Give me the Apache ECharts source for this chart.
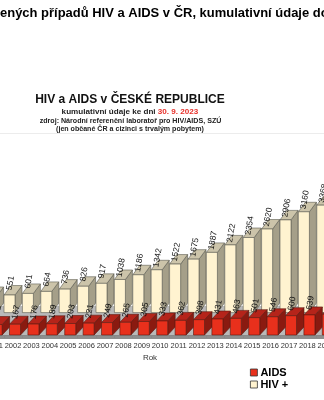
<!DOCTYPE html>
<html><head><meta charset="utf-8">
<script src="https://cdn.jsdelivr.net/npm/echarts@6/dist/echarts.min.js"></script>
<style>html,body{margin:0;padding:0;background:#fff}#c{width:324px;height:400px}</style>
</head><body><div id="c"></div>
<script>
const years = ['2001','2002','2003','2004','2005','2006','2007','2008','2009','2010','2011','2012','2013','2014','2015','2016','2017','2018','2019'];
const hivValues = [505, 551, 601, 664, 736, 826, 917, 1038, 1186, 1342, 1522, 1675, 1887, 2122, 2354, 2620, 2906, 3160, 3368];
const aidsValues = [152, 167, 176, 189, 203, 221, 249, 265, 305, 333, 362, 398, 431, 463, 501, 546, 600, 639, 672];
const seriesNames = ['AIDS', 'HIV +'];

const titleFull = 'Počet hlášených případů HIV a AIDS v ČR, kumulativní údaje do 30. 9. 2023';
const titleHidden = 'Počet hláš';
const titleVisible = 'ených případů HIV a AIDS v ČR, kumulativní údaje do';
const headLine = 'HIV a AIDS v ČESKÉ REPUBLICE';
const dateLead = 'kumulativní údaje ke dni ';
const dateText = '30. 9. 2023';
const sourceLine = 'zdroj: Národní referenční laboratoř pro HIV/AIDS, SZÚ';
const noteLine = '(jen občané ČR a cizinci s trvalým pobytem)';
const axisTitle = 'Rok';

const cv = document.createElement('canvas').getContext('2d');
function measure(t, size, fam, weight) { cv.font = (weight||'normal') + ' ' + size + 'px ' + fam; return cv.measureText(t).width; }
function fit(t, target, fam, weight) { return 20 * target / measure(t, 20, fam, weight); }

const TF = "'Liberation Sans Narrow', 'Liberation Sans', Arial, sans-serif";
const AF = "'Liberation Sans', Arial, sans-serif";
const tSize = fit(titleVisible, 329, TF, 'bold');
const tX = -measure(titleHidden, tSize, TF, 'bold');
const hSize = fit(headLine, 190, AF, 'bold');
const dSize = fit(dateLead + dateText, 137, AF, 'bold');
const sSize = fit(sourceLine, 182, AF, 'bold');
const nSize = fit(noteLine, 148, AF, 'bold');

function makeRender(baseVal, offX, offY, w, dx, dy, cols) {
  return function (params, api) {
    const i = api.value(0), v = api.value(1);
    const p0 = api.coord([i, baseVal]), p1 = api.coord([i, v]);
    const cx = p0[0] + offX, base = p0[1] + offY, top = p1[1] + offY;
    const x0 = cx - w / 2, x1 = cx + w / 2;
    const st = { stroke: cols.stroke, lineWidth: 0.6 };
    return {
      type: 'group',
      children: [
        { type: 'polygon', shape: { points: [[x1, top], [x1 + dx, top + dy], [x1 + dx, base + dy], [x1, base]] }, style: Object.assign({ fill: cols.side }, st) },
        { type: 'polygon', shape: { points: [[x0, top], [x1, top], [x1 + dx, top + dy], [x0 + dx, top + dy]] }, style: Object.assign({ fill: cols.top }, st) },
        { type: 'rect', shape: { x: x0, y: top, width: w, height: base - top }, style: Object.assign({ fill: cols.front }, st) },
        { type: 'text', x: cx + 1, y: top - 12, rotation: 80 * Math.PI / 180, z2: 50,
          style: { text: String(v), align: 'center', verticalAlign: 'middle', fontSize: 8.5, fontFamily: AF, fill: '#111' } }
      ]
    };
  };
}

const aidsMin = -380;
const chart = echarts.init(document.getElementById('c'), null, { renderer: 'canvas' });
chart.setOption({
  animation: false,
  backgroundColor: '#fff',
  grid: { left: -14.6, right: -11, top: 175.5, bottom: 65, containLabel: false, outerBoundsMode: 'none' },
  xAxis: {
    type: 'category', data: years, offset: 4,
    axisLine: { lineStyle: { color: '#888', width: 1 } },
    axisTick: { show: true, length: 3, lineStyle: { color: '#888' } },
    axisLabel: { interval: 0, fontSize: 7.5, color: '#333', margin: 3, fontFamily: AF }
  },
  yAxis: [
    { type: 'value', min: 0, max: 5000, show: false, splitLine: { show: false } },
    { type: 'value', min: aidsMin, max: 7716, show: false, splitLine: { show: false } }
  ],
  legend: {
    orient: 'vertical', left: 245, top: 362, itemWidth: 7, itemHeight: 7, itemGap: 1, icon: 'rect',
    data: ['AIDS', 'HIV +'],
    textStyle: { fontSize: 11, fontWeight: 'bold', color: '#000', fontFamily: AF, lineHeight: 11, padding: [0, 0, 0, -2] },
    itemStyle: { borderColor: '#333', borderWidth: 0.8 }
  },
  graphic: [
    { type: 'text', x: tX, y: 13, style: { text: titleFull, fontSize: tSize, fontWeight: 'bold', fontFamily: TF, fill: '#000', verticalAlign: 'middle' } },
    { type: 'text', x: 130, y: 99.5, style: { text: headLine, fontSize: hSize, fontWeight: 'bold', fontFamily: AF, fill: '#111', align: 'center', verticalAlign: 'middle' } },
    { type: 'text', x: 130, y: 112, style: { text: '{a|' + dateLead + '}{r|' + dateText + '}', align: 'center', verticalAlign: 'middle',
        rich: { a: { fontSize: dSize, fontWeight: 'bold', fontFamily: AF, fill: '#222' }, r: { fontSize: dSize, fontWeight: 'bold', fontFamily: AF, fill: '#e8302a' } } } },
    { type: 'text', x: 130.5, y: 120.7, style: { text: sourceLine, fontSize: sSize, fontWeight: 'bold', fontFamily: AF, fill: '#222', align: 'center', verticalAlign: 'middle' } },
    { type: 'text', x: 130, y: 129, style: { text: noteLine, fontSize: nSize, fontWeight: 'bold', fontFamily: AF, fill: '#222', align: 'center', verticalAlign: 'middle' } },
    { type: 'line', shape: { x1: 0, y1: 133.5, x2: 324, y2: 133.5 }, style: { stroke: '#ececec', lineWidth: 1 } },
    { type: 'polygon', shape: { points: [[-20, 335], [340, 335], [347, 306], [-13, 306]] }, style: { fill: '#b9b9b9' }, z: -1 },
    { type: 'rect', shape: { x: -20, y: 335, width: 360, height: 4 }, style: { fill: '#8e8e8e' }, z: -1 },
    { type: 'text', x: 150, y: 358, style: { text: axisTitle, fontSize: 8, fontFamily: AF, fill: '#333', align: 'center', verticalAlign: 'middle' } }
  ],
  series: [
    { name: 'HIV +', type: 'custom', z: 3, yAxisIndex: 0, itemStyle: { color: '#FFF3D0', borderColor: '#333' },
      renderItem: makeRender(0, -3.5, -22.4, 11, 7, -9.5, { front: '#FFF3D0', top: '#CCC4AA', side: '#A59F89', stroke: '#5a5a50' }),
      data: hivValues.map((v, i) => [i, v]) },
    { name: 'AIDS', type: 'custom', z: 4, yAxisIndex: 1, itemStyle: { color: '#E8301C', borderColor: '#333' },
      renderItem: makeRender(aidsMin, 2, 0, 11, 7.5, -8, { front: '#E8301C', top: '#B5241A', side: '#8A1A10', stroke: '#5a1a10' }),
      data: aidsValues.map((v, i) => [i, v]) }
  ]
});
</script></body></html>
